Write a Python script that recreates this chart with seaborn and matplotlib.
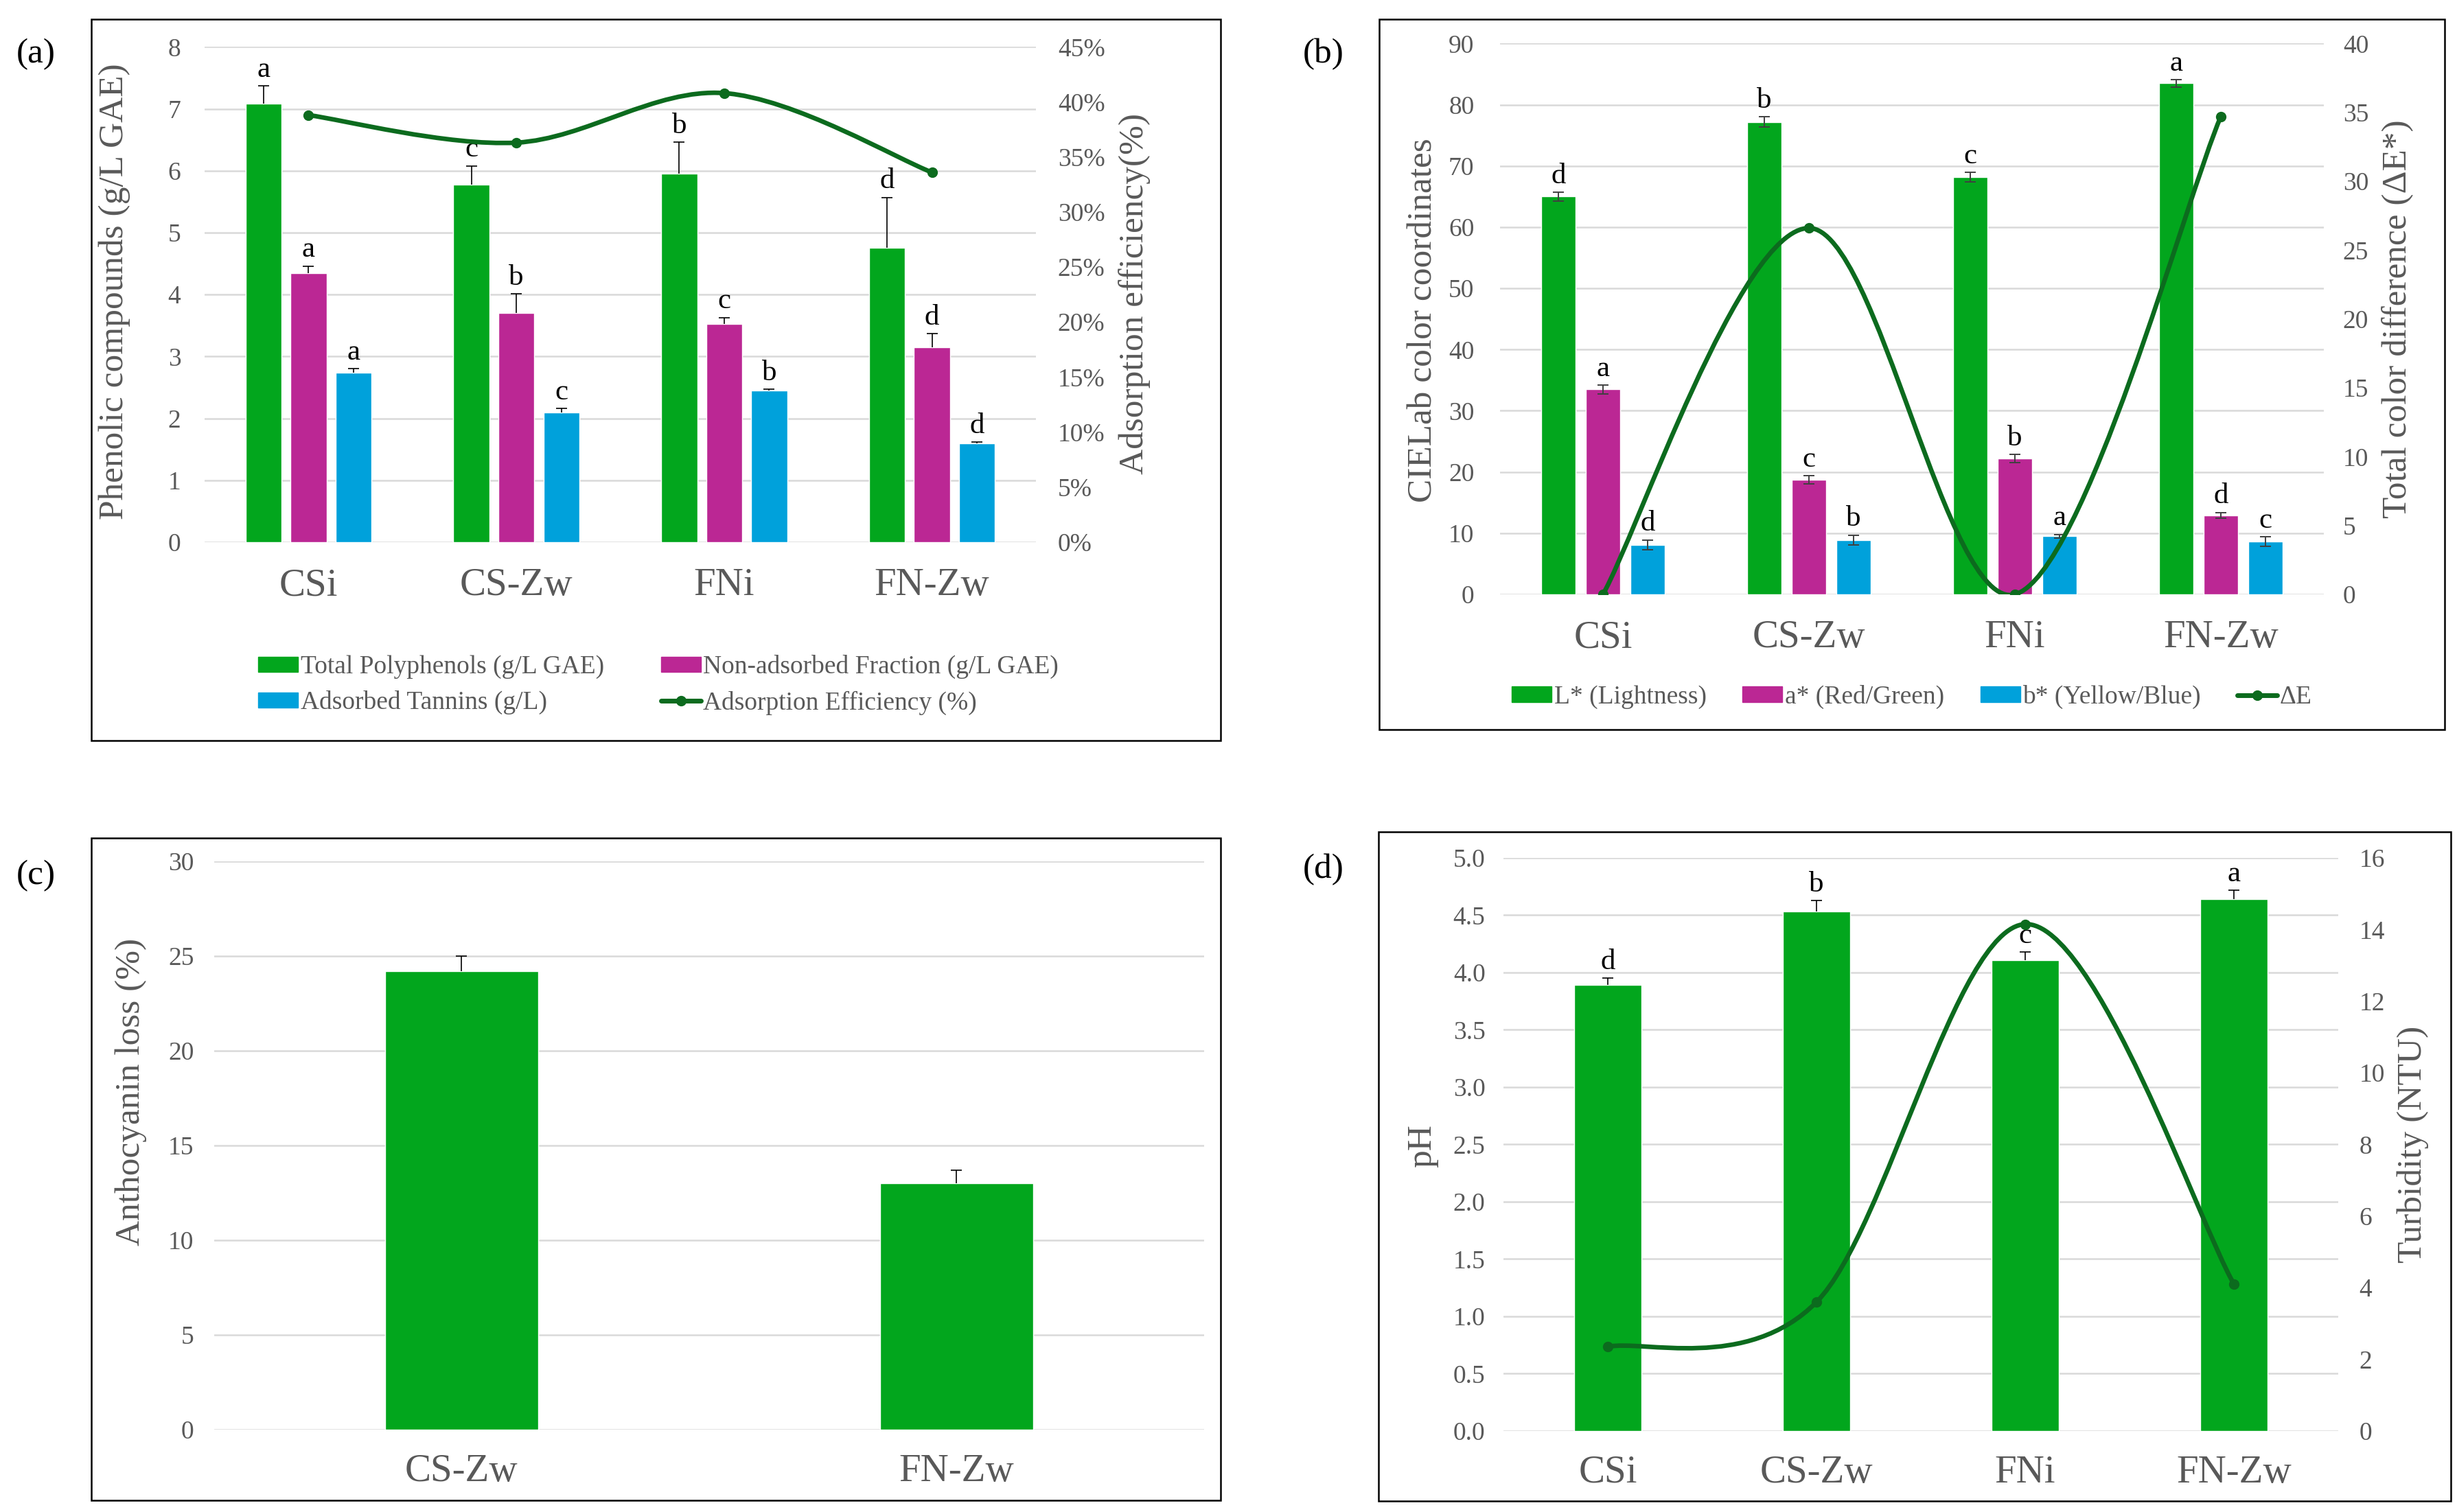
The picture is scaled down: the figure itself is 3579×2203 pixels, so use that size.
import numpy as np
import pandas as pd
import matplotlib
matplotlib.use("Agg")
import matplotlib.pyplot as plt
import seaborn as sns
from matplotlib.path import Path
from matplotlib.patches import PathPatch, Patch, Rectangle
from matplotlib.lines import Line2D
from matplotlib.ticker import MultipleLocator, FuncFormatter

sns.set_style("white")
plt.rcParams["font.family"] = ["Liberation Serif", "DejaVu Serif"]

# ---- data -------------------------------------------------------------
samples = ["CSi", "CS-Zw", "FNi", "FN-Zw"]

# (a) phenolic compounds
total_poly = [7.08, 5.78, 5.95, 4.76]
total_poly_err = [0.29, 0.30, 0.51, 0.81]
non_adsorbed = [4.34, 3.70, 3.52, 3.15]
non_adsorbed_err = [0.12, 0.31, 0.11, 0.22]
tannins = [2.74, 2.09, 2.45, 1.60]
tannins_err = [0.06, 0.07, 0.02, 0.02]
ads_eff = [38.8, 36.3, 40.8, 33.6]
letters_total = ["a", "c", "b", "d"]
letters_non = ["a", "b", "c", "d"]
letters_tan = ["a", "c", "b", "d"]
series_a = ["Total Polyphenols (g/L GAE)", "Non-adsorbed Fraction (g/L GAE)",
            "Adsorbed Tannins (g/L)"]

# (b) CIELab
L_star = [65.0, 77.2, 68.2, 83.5]
L_err = [0.7, 0.8, 0.8, 0.6]
a_star = [33.5, 18.7, 22.2, 12.9]
a_err = [0.7, 0.7, 0.7, 0.5]
b_star = [8.1, 8.9, 9.5, 8.6]
b_err = [0.8, 0.8, 0.3, 0.8]
delta_E = [0.0, 26.6, 0.0, 34.7]
letters_L = ["d", "b", "c", "a"]
letters_a = ["a", "c", "b", "d"]
letters_b = ["d", "b", "a", "c"]
series_b = ["L* (Lightness)", "a* (Red/Green)", "b* (Yellow/Blue)"]

# (c) anthocyanin loss
anth_samples = ["CS-Zw", "FN-Zw"]
anth_loss = [24.2, 13.0]
anth_err = [0.8, 0.7]

# (d) pH and turbidity
ph = [3.89, 4.53, 4.11, 4.64]
ph_err = [0.06, 0.10, 0.07, 0.08]
letters_ph = ["d", "b", "c", "a"]
turbidity = [2.35, 3.6, 14.15, 4.1]

# ---- style ------------------------------------------------------------
GREEN = "#02A61D"
MAGENTA = "#BB2794"
BLUE = "#00A1DB"
LINE = "#0C6B1E"
GRID = "#D9D9D9"
TXT = "#595959"
TICK_FS = 27
CAT_FS = 41
LAB_FS = 37
LEG_FS = 27
LET_FS = 31


def smooth_curve(xs, ys):
    pts = np.column_stack([xs, ys]).astype(float)
    n = len(pts)
    verts = [pts[0]]
    codes = [Path.MOVETO]
    for i in range(n - 1):
        p0 = pts[max(i - 1, 0)]
        p1 = pts[i]
        p2 = pts[i + 1]
        p3 = pts[min(i + 2, n - 1)]
        verts += [p1 + (p2 - p0) / 6, p2 - (p3 - p1) / 6, p2]
        codes += [Path.CURVE4] * 3
    return Path(verts, codes)


def style_axis(ax, left_pad, cat_pad):
    for s in ax.spines.values():
        s.set_visible(False)
    ax.set_axisbelow(True)
    ax.yaxis.grid(True, color=GRID, lw=1.8)
    ax.xaxis.grid(False)
    ax.tick_params(axis="y", length=0, pad=left_pad, labelsize=TICK_FS, labelcolor=TXT)
    ax.tick_params(axis="x", length=0, pad=cat_pad, labelsize=CAT_FS, labelcolor=TXT)
    ax.set_xlabel("")
    ax.set_ylabel("")


def add_errors(ax, container, err, color="black", both=False, letters=None):
    xs = [b.get_x() + b.get_width() / 2 for b in container]
    hs = [b.get_height() for b in container]
    if both:
        ax.errorbar(xs, hs, yerr=err, fmt="none", ecolor=color, elinewidth=1.4,
                    capsize=6, capthick=1.4, zorder=3)
    else:
        ax.errorbar(xs, hs, yerr=[np.zeros(len(err)), err], fmt="none", ecolor=color,
                    elinewidth=1.2, capsize=0, zorder=3)
        ax.plot(xs, np.array(hs) + np.array(err), ls="none", marker="_", ms=11,
                mew=1.2, color=color, zorder=3)
    if letters:
        for x, h, e, t in zip(xs, hs, err, letters):
            ax.annotate(t, (x, h + e), xytext=(0, 3), textcoords="offset points",
                        ha="center", va="bottom", fontsize=LET_FS, color="black")


def add_curve(ax2, xs, ys):
    ax2.add_patch(PathPatch(smooth_curve(xs, ys), fill=False, ec=LINE, lw=4.8, zorder=4))
    ax2.plot(xs, ys, ls="none", marker="o", ms=10, color=LINE, zorder=5)


fig = plt.figure(figsize=(35.79, 22.03), dpi=100)

# ---- (a) ----------------------------------------------------------------
ax_a = fig.add_axes([0.0833, 0.6414, 0.3383, 0.3276])
df_a = pd.DataFrame({
    "sample": samples * 3,
    "series": [s for s in series_a for _ in samples],
    "value": total_poly + non_adsorbed + tannins,
})
sns.barplot(data=df_a, x="sample", y="value", hue="series", hue_order=series_a,
            palette=[GREEN, MAGENTA, BLUE], width=0.65, gap=0.2, saturation=1,
            errorbar=None, legend=False, ax=ax_a)
for cont, err, lets in zip(ax_a.containers,
                           [total_poly_err, non_adsorbed_err, tannins_err],
                           [letters_total, letters_non, letters_tan]):
    add_errors(ax_a, cont, err, letters=lets)
ax_a.set_xlim(-0.5, 3.5)
ax_a.set_ylim(0, 8)
ax_a.yaxis.set_major_locator(MultipleLocator(1))
style_axis(ax_a, 25, 27)
ax_a2 = ax_a.twinx()
add_curve(ax_a2, np.arange(len(samples)), ads_eff)
ax_a2.set_ylim(0, 45)
ax_a2.yaxis.set_major_locator(MultipleLocator(5))
ax_a2.yaxis.set_major_formatter(FuncFormatter(lambda v, p: f"{v:.0f}%"))
for s in ax_a2.spines.values():
    s.set_visible(False)
ax_a2.tick_params(axis="y", length=0, pad=23, labelsize=TICK_FS, labelcolor=TXT)

handles_a = [Patch(color=GREEN), Patch(color=BLUE), Patch(color=MAGENTA),
             Line2D([], [], color=LINE, lw=5, marker="o", ms=10)]
labels_a = [series_a[0], series_a[2], series_a[1], "Adsorption Efficiency (%)"]
fig.legend(handles_a, labels_a, loc="center", bbox_to_anchor=(0.268, 0.547), ncol=2,
           frameon=False, fontsize=LEG_FS, labelcolor=TXT, handlelength=1.55,
           handleheight=0.55, handletextpad=0.1, columnspacing=2.2, labelspacing=0.45)

# ---- (b) ----------------------------------------------------------------
ax_b = fig.add_axes([0.6105, 0.6069, 0.3353, 0.3643])
df_b = pd.DataFrame({
    "sample": samples * 3,
    "series": [s for s in series_b for _ in samples],
    "value": L_star + a_star + b_star,
})
sns.barplot(data=df_b, x="sample", y="value", hue="series", hue_order=series_b,
            palette=[GREEN, MAGENTA, BLUE], width=0.65, gap=0.24, saturation=1,
            errorbar=None, legend=False, ax=ax_b)
for cont, err, lets in zip(ax_b.containers, [L_err, a_err, b_err],
                           [letters_L, letters_a, letters_b]):
    add_errors(ax_b, cont, err, color="#404040", both=True, letters=lets)
ax_b.set_xlim(-0.5, 3.5)
ax_b.set_ylim(0, 90)
ax_b.yaxis.set_major_locator(MultipleLocator(10))
style_axis(ax_b, 27, 27)
ax_b2 = ax_b.twinx()
add_curve(ax_b2, np.arange(len(samples)), delta_E)
ax_b2.set_ylim(0, 40)
ax_b2.yaxis.set_major_locator(MultipleLocator(5))
for s in ax_b2.spines.values():
    s.set_visible(False)
ax_b2.tick_params(axis="y", length=0, pad=20, labelsize=TICK_FS, labelcolor=TXT)

handles_b = [Patch(color=GREEN), Patch(color=MAGENTA), Patch(color=BLUE),
             Line2D([], [], color=LINE, lw=5, marker="o", ms=10)]
fig.legend(handles_b, series_b + ["ΔE"], loc="center", bbox_to_anchor=(0.778, 0.539),
           ncol=4, frameon=False, fontsize=LEG_FS, labelcolor=TXT, handlelength=1.55,
           handleheight=0.55, handletextpad=0.1, columnspacing=1.4)

# ---- (c) ----------------------------------------------------------------
ax_c = fig.add_axes([0.0871, 0.0545, 0.4030, 0.3758])
sns.barplot(x=anth_samples, y=anth_loss, color=GREEN, width=0.31, saturation=1,
            errorbar=None, ax=ax_c)
add_errors(ax_c, ax_c.containers[0], anth_err)
ax_c.set_xlim(-0.5, 1.5)
ax_c.set_ylim(0, 30)
ax_c.yaxis.set_major_locator(MultipleLocator(5))
style_axis(ax_c, 21, 25)

# ---- (d) ----------------------------------------------------------------
ax_d = fig.add_axes([0.6119, 0.0536, 0.3398, 0.3790])
sns.barplot(x=samples, y=ph, color=GREEN, width=0.32, saturation=1,
            errorbar=None, ax=ax_d)
add_errors(ax_d, ax_d.containers[0], ph_err, letters=letters_ph)
ax_d.set_xlim(-0.5, 3.5)
ax_d.set_ylim(0, 5)
ax_d.yaxis.set_major_locator(MultipleLocator(0.5))
ax_d.yaxis.set_major_formatter(FuncFormatter(lambda v, p: f"{v:.1f}"))
style_axis(ax_d, 19, 25)
ax_d2 = ax_d.twinx()
add_curve(ax_d2, np.arange(len(samples)), turbidity)
ax_d2.set_ylim(0, 16)
ax_d2.yaxis.set_major_locator(MultipleLocator(2))
for s in ax_d2.spines.values():
    s.set_visible(False)
ax_d2.tick_params(axis="y", length=0, pad=22, labelsize=TICK_FS, labelcolor=TXT)

# ---- axis titles ------------------------------------------------------
fig.text(0.0467, 0.807, "Phenolic compounds (g/L GAE)", rotation=90, ha="center",
         va="center", fontsize=LAB_FS, color=TXT)
fig.text(0.4617, 0.8056, "Adsorption efficiency(%)", rotation=90, ha="center",
         va="center", fontsize=LAB_FS, color=TXT)
fig.text(0.5794, 0.788, "CIELab color coordinates", rotation=90, ha="center",
         va="center", fontsize=LAB_FS, color=TXT)
fig.text(0.976, 0.789, "Total color difference (ΔE*)", rotation=90, ha="center",
         va="center", fontsize=LAB_FS, color=TXT)
fig.text(0.0532, 0.278, "Anthocyanin loss (%)", rotation=90, ha="center",
         va="center", fontsize=LAB_FS, color=TXT)
fig.text(0.579, 0.242, "pH", rotation=90, ha="center", va="center",
         fontsize=LAB_FS, color=TXT)
fig.text(0.982, 0.243, "Turbidity (NTU)", rotation=90, ha="center", va="center",
         fontsize=LAB_FS, color=TXT)

# ---- panel frames and letters -----------------------------------------
for x0, y0, x1, y1 in [(0.0371, 0.5102, 0.4968, 0.9873),
                       (0.5613, 0.5175, 0.9950, 0.9873),
                       (0.0371, 0.0077, 0.4968, 0.4458),
                       (0.5610, 0.0073, 0.9975, 0.4498)]:
    fig.add_artist(Rectangle((x0, y0), x1 - x0, y1 - y0, transform=fig.transFigure,
                             fill=False, ec="black", lw=1.8))
for x, y, t in [(0.0145, 0.964, "(a)"), (0.5387, 0.964, "(b)"),
                (0.0145, 0.421, "(c)"), (0.5387, 0.425, "(d)")]:
    fig.text(x, y, t, ha="center", va="center", fontsize=37, color="black")

fig.savefig("out.png", dpi=100)
